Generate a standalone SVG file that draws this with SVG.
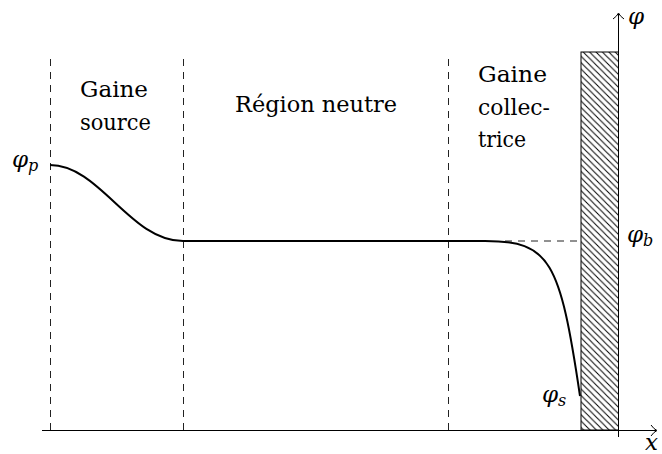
<svg xmlns="http://www.w3.org/2000/svg" width="662" height="454" viewBox="0 0 662 454">
<style>
text{font-family:"DejaVu Serif","Liberation Serif",serif;fill:#000}
.t{font-size:23px}
.m{font-style:italic;font-size:23px}
.s{font-size:16px}
.dash{stroke:#222;stroke-width:1;stroke-dasharray:7 6;fill:none}
.ax{stroke:#000;stroke-width:1;fill:none}
.curve{stroke:#000;stroke-width:2;fill:none;stroke-linejoin:round}
</style>
<defs>
<pattern id="hatch" patternUnits="userSpaceOnUse" width="6.4" height="6.4">
<path d="M-1.6,-1.6 L8,8 M-1.6,4.8 L1.6,8 M4.8,-1.6 L8,1.6" stroke="#000" stroke-width="1"/>
</pattern>
</defs>
<rect x="0" y="0" width="662" height="454" fill="#fff"/>
<g id="wall">
<rect x="581" y="52" width="37.5" height="378" fill="url(#hatch)" stroke="#000" stroke-width="1"/>
</g>
<g id="connectors">
<line class="dash" x1="50.5" y1="430" x2="50.5" y2="56"/>
<line class="dash" x1="183.5" y1="430" x2="183.5" y2="56"/>
<line class="dash" x1="448.5" y1="430" x2="448.5" y2="56"/>
<line class="dash" x1="505" y1="241" x2="581" y2="241"/>
<line class="ax" x1="42" y1="430.5" x2="656" y2="430.5"/>
<path class="ax" d="M651,425 Q654,429.3 657,430.5 Q654,431.7 651,436"/>
<line class="ax" x1="618.5" y1="437" x2="618.5" y2="14"/>
<path class="ax" d="M613,19 Q617.2,16 618.5,13 Q619.8,16 624,19"/>
<path class="curve" d="M50,165 C100,165 130,241 183,241 L485,241 C550,241 560,260 580,396"/>
</g>
<g id="labels">
<text class="t" x="80" y="97" textLength="68" lengthAdjust="spacingAndGlyphs">Gaine</text>
<text class="t" x="80" y="130" textLength="71" lengthAdjust="spacingAndGlyphs">source</text>
<text class="t" x="235" y="112" textLength="162" lengthAdjust="spacingAndGlyphs">Région neutre</text>
<text class="t" x="478" y="82" textLength="69" lengthAdjust="spacingAndGlyphs">Gaine</text>
<text class="t" x="478" y="114.5" textLength="72" lengthAdjust="spacingAndGlyphs">collec-</text>
<text class="t" x="478" y="147" textLength="48" lengthAdjust="spacingAndGlyphs">trice</text>
<text class="m" x="12" y="167">φ<tspan class="s" dy="4">p</tspan></text>
<text class="m" x="627" y="242">φ<tspan class="s" dy="4">b</tspan></text>
<text class="m" x="542" y="402">φ<tspan class="s" dy="4">s</tspan></text>
<text class="m" x="628" y="24">φ</text>
<text class="m" x="645" y="450">x</text>
</g>
</svg>
